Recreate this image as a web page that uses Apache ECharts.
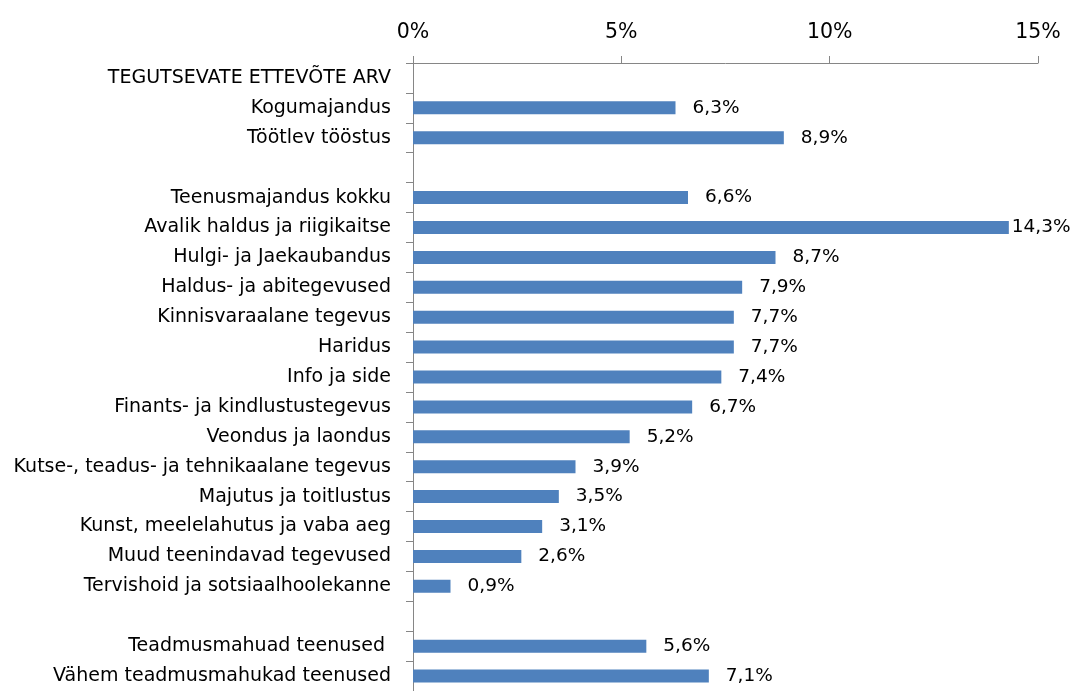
<!DOCTYPE html>
<html>
<head>
<meta charset="utf-8">
<script src="https://cdn.jsdelivr.net/npm/echarts@6/dist/echarts.min.js"></script>
<style>
html,body{margin:0;padding:0;background:#fff;}
#chart{width:1070px;height:691px;}
</style>
</head>
<body>
<div id="chart"></div>
<script>
const categories = [
  "TEGUTSEVATE ETTEVÕTE ARV",
  "Kogumajandus",
  "Töötlev tööstus",
  " ",
  "Teenusmajandus kokku",
  "Avalik haldus ja riigikaitse",
  "Hulgi- ja Jaekaubandus",
  "Haldus- ja abitegevused",
  "Kinnisvaraalane tegevus",
  "Haridus",
  "Info ja side",
  "Finants- ja kindlustustegevus",
  "Veondus ja laondus",
  "Kutse-, teadus- ja tehnikaalane tegevus",
  "Majutus ja toitlustus",
  "Kunst, meelelahutus ja vaba aeg",
  "Muud teenindavad tegevused",
  "Tervishoid ja sotsiaalhoolekanne",
  "  ",
  "Teadmusmahuad teenused ",
  "Vähem teadmusmahukad teenused"
];
const values = [null, 6.3, 8.9, null, 6.6, 14.3, 8.7, 7.9, 7.7, 7.7, 7.4, 6.7, 5.2, 3.9, 3.5, 3.1, 2.6, 0.9, null, 5.6, 7.1];
const xTicks = [0, 5, 10, 15];

const chart = echarts.init(document.getElementById('chart'));
const FONT = '"DejaVu Sans", sans-serif';
// labels near the right edge are pulled in closer to the bar so they fit
const seriesData = values.map(v => (v != null && v > 14) ? {value: v, label: {distance: 3}} : v);
chart.setOption({
  animation: false,
  grid: {left: 413, right: 32, top: 63, bottom: -2, containLabel: false},
  xAxis: {
    type: 'value', position: 'top',
    min: xTicks[0], max: xTicks[xTicks.length - 1], interval: 5,
    axisLine: {show: true, lineStyle: {color: '#868686', width: 1}},
    axisTick: {show: true, length: 7, lineStyle: {color: '#868686'}},
    splitLine: {show: false},
    axisLabel: {formatter: '{value}%', color: '#000', fontSize: 20.5, fontFamily: FONT, margin: 20}
  },
  yAxis: {
    type: 'category', inverse: true, data: categories,
    axisLine: {show: true, lineStyle: {color: '#868686', width: 1}},
    axisTick: {show: true, length: 7, alignWithLabel: false, lineStyle: {color: '#868686'}},
    axisLabel: {color: '#000', fontSize: 19, fontFamily: FONT, margin: 22, interval: 0}
  },
  series: [{
    type: 'bar', data: seriesData, barWidth: 13,
    itemStyle: {color: '#4F81BD'},
    label: {
      show: true, position: 'right', distance: 17,
      color: '#000', fontSize: 18.5, fontFamily: FONT,
      formatter: p => p.value == null ? '' : p.value.toFixed(1).replace('.', ',') + '%'
    }
  }]
});
</script>
</body>
</html>
